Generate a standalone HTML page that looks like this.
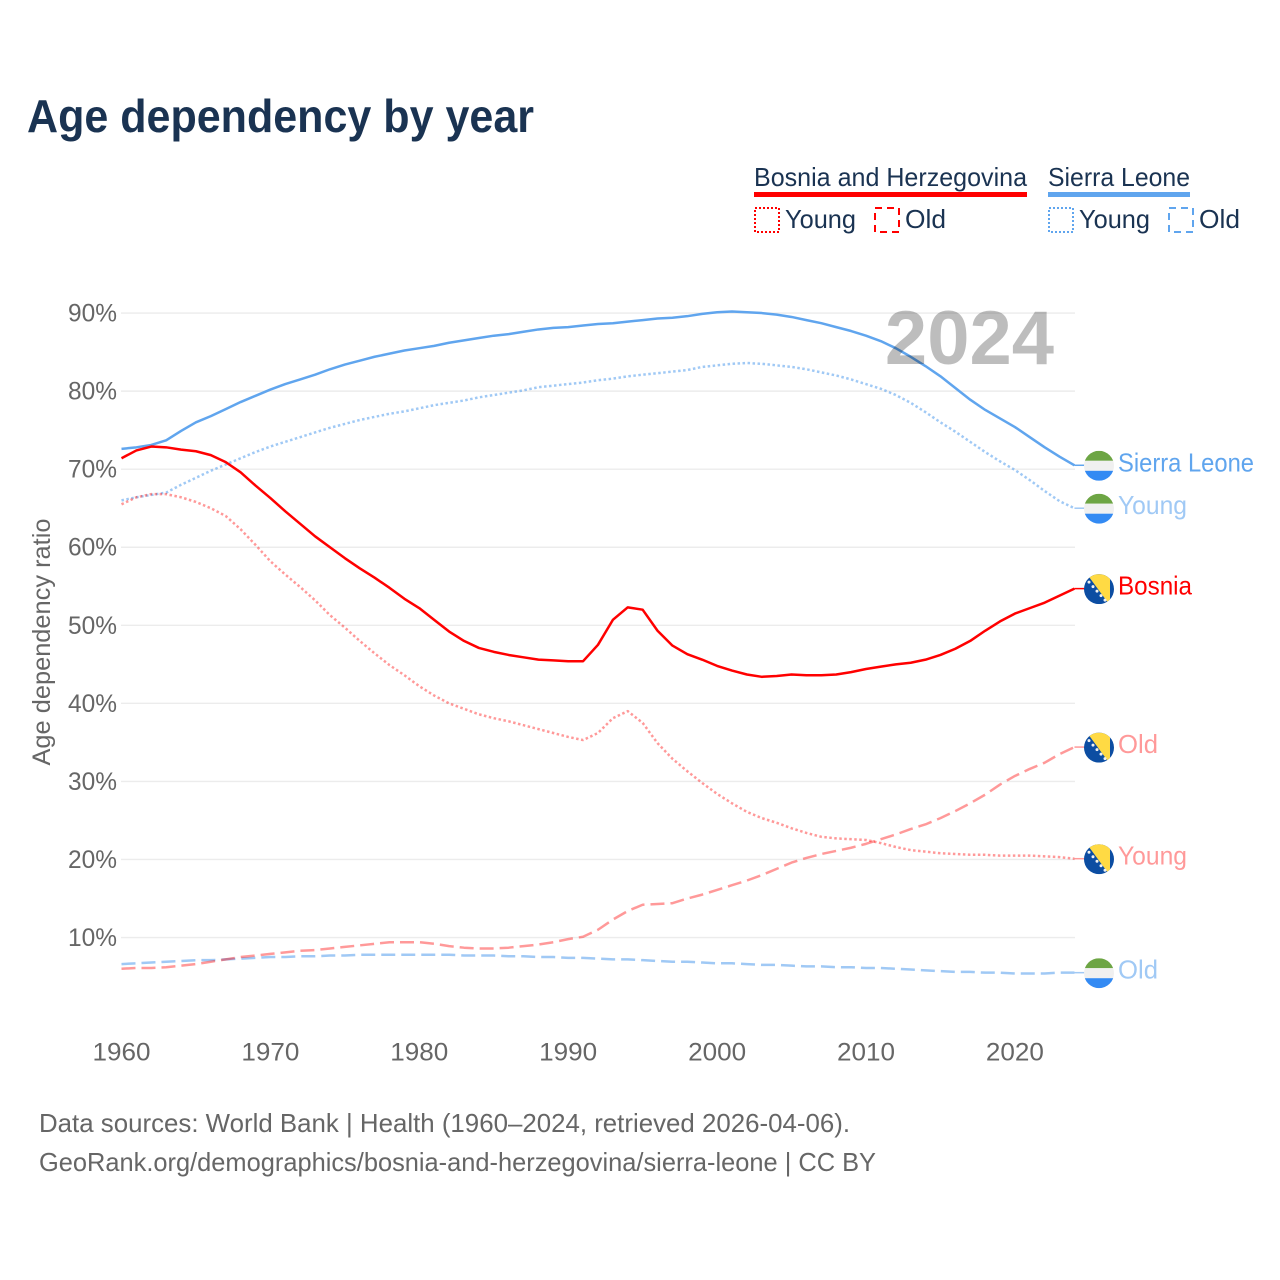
<!DOCTYPE html>
<html lang="en">
<head>
<meta charset="utf-8">
<title>Age dependency by year</title>
<style>
html,body{margin:0;padding:0;background:#fff;width:1280px;height:1280px;overflow:hidden}
svg{display:block;font-family:"Liberation Sans",sans-serif}
</style>
</head>
<body>
<svg id="chart" xmlns="http://www.w3.org/2000/svg" width="1280" height="1280" viewBox="0 0 1280 1280">
<rect x="0" y="0" width="1280" height="1280" fill="#fff"/>
<defs>
<clipPath id="flag-clip"><circle cx="0" cy="0" r="15"/></clipPath>
<g id="flag-sl"><g clip-path="url(#flag-clip)"><rect x="-15" y="-15" width="30" height="10" fill="#6da544"/><rect x="-15" y="-5" width="30" height="10" fill="#f0f0f0"/><rect x="-15" y="5" width="30" height="10" fill="#338af3"/></g></g>
<g id="flag-ba"><g clip-path="url(#flag-clip)"><rect x="-15" y="-15" width="30" height="30" fill="#0c4da2"/><polygon points="-12,-15 11,-15 11,15 10,15" fill="#ffda44"/><g fill="#f0f0f0"><circle cx="-10" cy="-7" r="1.5"/><circle cx="-6" cy="-2.5" r="1.5"/><circle cx="-2" cy="2" r="1.5"/><circle cx="2" cy="6.5" r="1.5"/><circle cx="6" cy="11" r="1.5"/></g></g></g>
</defs>
<text x="27" y="132" font-size="46" font-weight="700" fill="#1a3352" textLength="507" lengthAdjust="spacingAndGlyphs">Age dependency by year</text>

<g fill="#1a3352" font-size="26">
  <text x="754" y="186" textLength="273" lengthAdjust="spacingAndGlyphs">Bosnia and Herzegovina</text>
  <rect x="754" y="192" width="273" height="5" fill="#ff0000"/>
  <text x="1048" y="186" textLength="142" lengthAdjust="spacingAndGlyphs">Sierra Leone</text>
  <rect x="1048" y="192" width="142" height="5" fill="#60a5ee"/>
  <rect x="755" y="208" width="24" height="24" fill="none" stroke="#ff0000" stroke-width="2" stroke-dasharray="2 2"/>
  <text x="785" y="228" textLength="71" lengthAdjust="spacingAndGlyphs">Young</text>
  <rect x="875" y="208" width="24" height="24" fill="none" stroke="#ff0000" stroke-width="2" stroke-dasharray="7 5"/>
  <text x="905" y="228" textLength="41" lengthAdjust="spacingAndGlyphs">Old</text>
  <rect x="1049" y="208" width="24" height="24" fill="none" stroke="#60a5ee" stroke-width="2" stroke-dasharray="2 2"/>
  <text x="1079" y="228" textLength="71" lengthAdjust="spacingAndGlyphs">Young</text>
  <rect x="1169" y="208" width="24" height="24" fill="none" stroke="#60a5ee" stroke-width="2" stroke-dasharray="7 5"/>
  <text x="1199" y="228" textLength="41" lengthAdjust="spacingAndGlyphs">Old</text>
</g>

<g id="grid"></g>
<g id="series"></g>
<g id="end-labels"></g>

<text x="1054" y="364" text-anchor="end" font-size="76" font-weight="700" fill="#000" fill-opacity="0.26">2024</text>

<text transform="translate(50,642) rotate(-90)" text-anchor="middle" font-size="25" fill="#666" textLength="247" lengthAdjust="spacingAndGlyphs">Age dependency ratio</text>

<g font-size="26" fill="#666">
  <text x="39" y="1132" textLength="811" lengthAdjust="spacingAndGlyphs">Data sources: World Bank | Health (1960–2024, retrieved 2026-04-06).</text>
  <text x="39" y="1171" textLength="837" lengthAdjust="spacingAndGlyphs">GeoRank.org/demographics/bosnia-and-herzegovina/sierra-leone | CC BY</text>
</g>
</svg>
<script>
const startYear = 1960;
const xTickLabels = [1960, 1970, 1980, 1990, 2000, 2010, 2020];
const yTickLabels = [10, 20, 30, 40, 50, 60, 70, 80, 90];

const sierraTotal = [72.6,72.8,73.1,73.7,74.9,76.0,76.8,77.7,78.6,79.4,80.2,80.9,81.5,82.1,82.8,83.4,83.9,84.4,84.8,85.2,85.5,85.8,86.2,86.5,86.8,87.1,87.3,87.6,87.9,88.1,88.2,88.4,88.6,88.7,88.9,89.1,89.3,89.4,89.6,89.9,90.1,90.2,90.1,90.0,89.8,89.5,89.1,88.7,88.2,87.7,87.1,86.4,85.5,84.4,83.2,81.9,80.4,78.9,77.6,76.5,75.4,74.1,72.8,71.6,70.5];
const sierraYoung = [66.0,66.4,66.7,67.0,68.0,68.9,69.8,70.6,71.4,72.2,72.9,73.5,74.1,74.7,75.3,75.8,76.3,76.7,77.1,77.4,77.8,78.2,78.5,78.8,79.2,79.5,79.8,80.1,80.5,80.7,80.9,81.1,81.4,81.6,81.9,82.1,82.3,82.5,82.7,83.1,83.3,83.5,83.6,83.5,83.3,83.1,82.8,82.4,82.0,81.5,80.9,80.3,79.5,78.5,77.3,76.0,74.8,73.5,72.2,71.0,69.9,68.6,67.2,65.9,65.0];
const sierraOld = [6.6,6.7,6.8,6.9,7.0,7.1,7.1,7.2,7.3,7.4,7.5,7.5,7.6,7.6,7.7,7.7,7.8,7.8,7.8,7.8,7.8,7.8,7.8,7.7,7.7,7.7,7.6,7.6,7.5,7.5,7.4,7.4,7.3,7.2,7.2,7.1,7.0,6.9,6.9,6.8,6.7,6.7,6.6,6.5,6.5,6.4,6.3,6.3,6.2,6.2,6.1,6.1,6.0,5.9,5.8,5.7,5.6,5.6,5.5,5.5,5.4,5.4,5.4,5.5,5.5];
const bosniaTotal = [71.4,72.4,72.9,72.8,72.5,72.3,71.8,70.9,69.6,67.9,66.3,64.6,63.0,61.4,60.0,58.6,57.3,56.1,54.8,53.4,52.2,50.7,49.2,48.0,47.1,46.6,46.2,45.9,45.6,45.5,45.4,45.4,47.5,50.7,52.3,52.0,49.3,47.4,46.3,45.6,44.8,44.2,43.7,43.4,43.5,43.7,43.6,43.6,43.7,44.0,44.4,44.7,45.0,45.2,45.6,46.2,47.0,48.0,49.3,50.5,51.5,52.2,52.9,53.8,54.7];
const bosniaYoung = [65.5,66.4,66.8,66.8,66.4,65.8,65.0,64.0,62.3,60.3,58.2,56.5,54.9,53.2,51.3,49.7,48.0,46.4,44.9,43.6,42.2,41.0,40.0,39.3,38.6,38.1,37.7,37.2,36.7,36.2,35.7,35.3,36.2,38.1,39.0,37.5,34.9,32.9,31.3,29.8,28.4,27.2,26.1,25.3,24.7,24.0,23.4,22.9,22.7,22.6,22.5,22.1,21.6,21.2,21.0,20.8,20.7,20.6,20.6,20.5,20.5,20.5,20.4,20.3,20.1];
const bosniaOld = [6.0,6.1,6.1,6.2,6.4,6.6,6.9,7.2,7.5,7.7,7.9,8.1,8.3,8.4,8.6,8.8,9.0,9.2,9.4,9.4,9.4,9.2,8.9,8.7,8.6,8.6,8.7,8.9,9.1,9.4,9.8,10.1,11.0,12.3,13.4,14.2,14.3,14.4,15.0,15.5,16.1,16.7,17.3,18.0,18.8,19.6,20.2,20.7,21.1,21.5,22.0,22.6,23.2,23.9,24.5,25.3,26.2,27.2,28.3,29.6,30.7,31.6,32.4,33.5,34.4];

const NS = 'http://www.w3.org/2000/svg';
function xScale(year) { return 121.5 + (year - 1960) * 14.89; }
function yScale(v) { return 1015.6 - v * 7.806; }
function make(tag, attrs, parent, text) {
  const el = document.createElementNS(NS, tag);
  for (const k in attrs) el.setAttribute(k, attrs[k]);
  if (text !== undefined) el.textContent = text;
  parent.appendChild(el);
  return el;
}
const grid = document.getElementById('grid');
yTickLabels.forEach(function (t) {
  const line = make('line', { x1: 121, x2: 1075, y1: yScale(t), y2: yScale(t), stroke: '#ececec', 'stroke-width': 1.4 }, grid);
  
  
  const label = make('text', { x: 117, y: yScale(t) + 8.5, 'text-anchor': 'end', 'font-size': 25, fill: '#666', textLength: 49, lengthAdjust: 'spacingAndGlyphs' }, grid, t + '%');
  
  
});
xTickLabels.forEach(function (t) {
  const label = make('text', { x: xScale(t), y: 1060.5, 'text-anchor': 'middle', 'font-size': 25, fill: '#666', textLength: 58, lengthAdjust: 'spacingAndGlyphs' }, grid, String(t));
  
  
});

const seriesG = document.getElementById('series');
const labelsG = document.getElementById('end-labels');
function drawSeries(values, name, color, opacity, dash, labelText, flag, labelWidth) {
  const lastX = xScale(startYear + values.length - 1);
  const lastY = yScale(values[values.length - 1]);
  let d = '';
  values.forEach(function (v, i) {
    d += (i ? 'L' : 'M') + xScale(startYear + i).toFixed(2) + ' ' + yScale(v).toFixed(2);
  });
  const path = make('path', { d: d, fill: 'none', stroke: color, 'stroke-opacity': opacity, 'stroke-width': 2.5, 'stroke-linejoin': 'round' }, seriesG);
  if (dash) path.setAttribute('stroke-dasharray', dash);
  
  
  const conn = make('line', { x1: lastX, x2: 1085, y1: lastY, y2: lastY, stroke: color, 'stroke-opacity': opacity, 'stroke-width': 1.5 }, seriesG);
  
  
  const flagY = lastY + 0.5;
  const use = make('use', { href: flag, transform: 'translate(1099,' + flagY.toFixed(1) + ')' }, labelsG);
  
  
  const text = make('text', { x: 1118, y: (lastY + 6).toFixed(1), 'font-size': 26, fill: color, 'fill-opacity': opacity, textLength: labelWidth, lengthAdjust: 'spacingAndGlyphs' }, labelsG, labelText);
  
  
}
drawSeries(sierraOld, 'sierra-old', '#60a5ee', 0.6, '14 6', 'Old', '#flag-sl', 40);
drawSeries(bosniaOld, 'bosnia-old', '#ff0000', 0.4, '14 6', 'Old', '#flag-ba', 40);
drawSeries(sierraYoung, 'sierra-young', '#60a5ee', 0.6, '2.5 2.5', 'Young', '#flag-sl', 69);
drawSeries(bosniaYoung, 'bosnia-young', '#ff0000', 0.4, '2.5 2.5', 'Young', '#flag-ba', 69);
drawSeries(sierraTotal, 'sierra-total', '#60a5ee', 1, '', 'Sierra Leone', '#flag-sl', 136);
drawSeries(bosniaTotal, 'bosnia-total', '#ff0000', 1, '', 'Bosnia', '#flag-ba', 74);
</script>
</body>
</html>
